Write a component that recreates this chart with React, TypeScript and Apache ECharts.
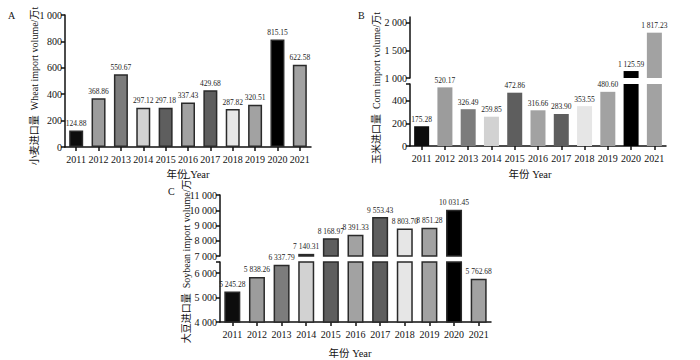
import React, { useEffect, useRef } from "react";
import * as echarts from "echarts";

const years = ["2011", "2012", "2013", "2014", "2015", "2016", "2017", "2018", "2019", "2020", "2021"];
const wheat = [124.88, 368.86, 550.67, 297.12, 297.18, 337.43, 429.68, 287.82, 320.51, 815.15, 622.58];
const corn = [175.28, 520.17, 326.49, 259.85, 472.86, 316.66, 283.9, 353.55, 480.6, 1125.59, 1817.23];
const soybean = [5245.28, 5838.26, 6337.79, 7140.31, 8168.97, 8391.33, 9553.43, 8803.7, 8851.28, 10031.45, 5762.68];
const barColors = ["#0d0d0d", "#9c9c9c", "#7c7c7c", "#d2d2d2", "#5e5e5e", "#a2a2a2", "#5e5e5e", "#e6e6e6", "#a2a2a2", "#000000", "#a2a2a2"];

const wheatTicks = [0, 200, 400, 600, 800, 1000];
const cornUpperTicks = [1000, 1500, 2000];
const cornLowerTicks = [0, 200, 400];
const soyUpperTicks = [7000, 8000, 9000, 10000, 11000];
const soyLowerTicks = [4000, 5000, 6000];

const SERIF = "'Liberation Serif', 'DejaVu Serif', serif";
const CJK = "'Liberation Serif', 'Noto Sans CJK SC', serif";

function fmt(v: number, digits: number): string {
  const s = v.toFixed(digits);
  const [i, d] = s.split(".");
  let int = i;
  if (int.length >= 4) {
    int = int.replace(/\B(?=(\d{3})+(?!\d))/g, " ");
  }
  return d !== undefined ? int + "." + d : int;
}

const axisLineStyle = { color: "#111", width: 1.5 };

function xAxisCfg(gridIndex: number, show: boolean) {
  return {
    type: "category",
    gridIndex,
    data: years,
    show,
    boundaryGap: true,
    axisLine: { show: true, lineStyle: axisLineStyle },
    axisTick: { show: true, alignWithLabel: true, length: 4, lineStyle: axisLineStyle },
    axisLabel: { show: true, fontFamily: SERIF, fontSize: 10, color: "#111", margin: 7, interval: 0 },
  };
}

function yAxisCfg(gridIndex: number, min: number, max: number, ticks: number[], extraTicks: number[] = []) {
  return {
    type: "value",
    gridIndex,
    min,
    max,
    splitLine: { show: false },
    axisLine: { show: true, lineStyle: axisLineStyle },
    axisTick: { show: true, length: 4, lineStyle: axisLineStyle, customValues: ticks.concat(extraTicks) },
    axisLabel: {
      show: true,
      fontFamily: SERIF,
      fontSize: 10,
      color: "#111",
      margin: 3,
      customValues: ticks,
      formatter: (v: number) => fmt(v, 0),
    },
  };
}

function makeLabel(show: boolean) {
  return {
    show,
    position: "top",
    distance: 3,
    fontFamily: SERIF,
    fontSize: 7.5,
    color: "#222",
    textBorderWidth: 0,
    textBorderColor: "transparent",
    formatter: (p: any) => fmt(Number(p.value), 2),
  };
}

function barSeries(idx: number, data: any[], barWidth: number, border: boolean) {
  return {
    type: "bar",
    xAxisIndex: idx,
    yAxisIndex: idx,
    barWidth,
    clip: true,
    data,
    itemStyle: {
      borderColor: border ? "#2a2a2a" : "transparent",
      borderWidth: border ? 1.5 : 0,
    },
    label: makeLabel(true),
  };
}

function fullData(values: number[]) {
  return values.map((v, i) => ({ value: v, itemStyle: { color: barColors[i] }, label: makeLabel(true) }));
}
function lowerData(values: number[], lowerMax: number) {
  return values.map((v, i) => ({ value: v, itemStyle: { color: barColors[i] }, label: makeLabel(v <= lowerMax) }));
}
function upperData(values: number[], upperMin: number) {
  return values.map((v, i) =>
    v >= upperMin ? { value: v, itemStyle: { color: barColors[i] }, label: makeLabel(true) } : "-"
  );
}

export default function App() {
  const ref = useRef<HTMLDivElement>(null);
  useEffect(() => {
    if (!ref.current) return;
    const chart = echarts.init(ref.current, undefined, { renderer: "svg" });
    const cornLowerMax = 550;
    const cornUpperMin = 1000;
    const soyLowerMax = 6450;
    const soyUpperMin = 7000;
    const titleFont = `10px ${CJK}`;
    const option: any = {
      animation: false,
      backgroundColor: "#fff",
      color: barColors,
      grid: [
        { left: 65, top: 15, width: 246, height: 132, outerBoundsMode: "none" },
        { left: 410, top: 17, width: 256, height: 61, outerBoundsMode: "none" },
        { left: 410, top: 84, width: 256, height: 62, outerBoundsMode: "none" },
        { left: 220, top: 195, width: 271, height: 61, outerBoundsMode: "none" },
        { left: 220, top: 262, width: 271, height: 60, outerBoundsMode: "none" },
      ],
      xAxis: [
        xAxisCfg(0, true),
        xAxisCfg(1, false),
        xAxisCfg(2, true),
        xAxisCfg(3, false),
        xAxisCfg(4, true),
      ],
      yAxis: [
        yAxisCfg(0, 0, 1000, wheatTicks),
        yAxisCfg(1, cornUpperMin, 2100, cornUpperTicks),
        yAxisCfg(2, 0, cornLowerMax, cornLowerTicks, [cornLowerMax]),
        yAxisCfg(3, soyUpperMin, 11000, soyUpperTicks),
        yAxisCfg(4, 4000, soyLowerMax, soyLowerTicks, [soyLowerMax]),
      ],
      series: [
        barSeries(0, fullData(wheat), 14, true),
        barSeries(1, upperData(corn, cornUpperMin), 15, false),
        barSeries(2, lowerData(corn, cornLowerMax), 15, false),
        barSeries(3, upperData(soybean, soyUpperMin), 16, true),
        barSeries(4, lowerData(soybean, soyLowerMax), 16, true),
      ],
      graphic: [
        { type: "text", x: 8, y: 10, style: { text: "A", font: `10px ${SERIF}`, fill: "#111" } },
        { type: "text", x: 358, y: 10, style: { text: "B", font: `10px ${SERIF}`, fill: "#111" } },
        { type: "text", x: 168, y: 186, style: { text: "C", font: `10px ${SERIF}`, fill: "#111" } },
        {
          type: "text", x: 34, y: 86, rotation: Math.PI / 2,
          style: { text: "小麦进口量  Wheat import volume/万t", font: titleFont, fill: "#111", align: "center", verticalAlign: "middle" },
        },
        {
          type: "text", x: 376, y: 88, rotation: Math.PI / 2,
          style: { text: "玉米进口量  Corn import volume/万t", font: titleFont, fill: "#111", align: "center", verticalAlign: "middle" },
        },
        {
          type: "text", x: 186, y: 260, rotation: Math.PI / 2,
          style: { text: "大豆进口量  Soybean import volume/万t", font: titleFont, fill: "#111", align: "center", verticalAlign: "middle" },
        },
        { type: "text", x: 188, y: 174, style: { text: "年份 Year", font: `10.5px ${CJK}`, fill: "#111", align: "center", verticalAlign: "middle" } },
        { type: "text", x: 530, y: 174, style: { text: "年份 Year", font: `10.5px ${CJK}`, fill: "#111", align: "center", verticalAlign: "middle" } },
        { type: "text", x: 350, y: 353, style: { text: "年份 Year", font: `10.5px ${CJK}`, fill: "#111", align: "center", verticalAlign: "middle" } },
      ],
    };
    chart.setOption(option);
    return () => chart.dispose();
  }, []);
  return (
    <div
      ref={ref}
      style={{ position: "fixed", left: 0, top: 0, width: 700, height: 360, background: "#fff", opacity: 0.999 }}
    />
  );
}
